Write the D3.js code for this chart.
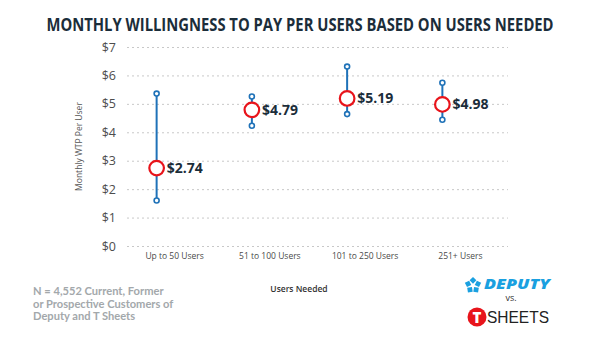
<!DOCTYPE html>
<html>
<head>
<meta charset="utf-8">
<script src="https://cdn.jsdelivr.net/npm/d3@7"></script>
<style>
  body { margin: 0; background: #fff; }
  svg { display: block; font-family: "Open Sans", sans-serif; }
</style>
</head>
<body>
<svg id="chart"></svg>
<script>
// data
var categories = ["Up to 50 Users", "51 to 100 Users", "101 to 250 Users", "251+ Users"];
var meanWtp = [2.74, 4.79, 5.19, 4.98];
var highWtp = [5.36, 5.26, 6.31, 5.74];
var lowWtp = [1.60, 4.23, 4.64, 4.44];
var yTicks = [0, 1, 2, 3, 4, 5, 6, 7];

var width = 600;
var height = 337;
var margin = {top: 47, right: 92, bottom: 91, left: 127};

var svg = d3.select("#chart")
    .attr("width", width)
    .attr("height", height);

// title, squeezed horizontally to the condensed look
svg.append("g")
    .attr("transform", "translate(300,31) scale(0.87,1)")
    .append("text")
    .attr("text-anchor", "middle")
    .attr("fill", "#1b2d3a")
    .style("font-size", "17px")
    .style("font-weight", 700)
    .text("MONTHLY WILLINGNESS TO PAY PER USERS BASED ON USERS NEEDED");

// scales
var x = d3.scaleBand()
    .domain(categories)
    .range([margin.left, width - margin.right]);

var y = d3.scaleLinear()
    .domain([0, 7])
    .range([height - margin.bottom, margin.top]);

// dotted gridlines + y labels
var yAxis = svg.append("g")
    .attr("transform", `translate(${margin.left},0)`)
    .call(d3.axisLeft(y).tickValues(yTicks).tickFormat(d => "$" + d)
        .tickSize(-(width - margin.left - margin.right)).tickPadding(11));
yAxis.select(".domain").remove();
yAxis.selectAll(".tick line")
    .attr("stroke", "#c8c8c8")
    .attr("stroke-width", 1)
    .attr("stroke-dasharray", "2,3");
yAxis.selectAll(".tick text")
    .attr("fill", "#4d4d4d")
    .style("font-size", "12.5px")
    .style("font-family", "Open Sans, sans-serif");

// x labels
var xAxis = svg.append("g")
    .attr("transform", `translate(0,${height - margin.bottom})`)
    .call(d3.axisBottom(x).tickSize(0).tickPadding(7));
xAxis.select(".domain").remove();
xAxis.selectAll(".tick text")
    .attr("fill", "#4a4a4a")
    .style("font-size", "8.5px")
    .style("font-family", "Open Sans, sans-serif");

// axis titles
svg.append("text")
    .attr("transform", `translate(82,${y(3.5)}) rotate(-90)`)
    .attr("text-anchor", "middle")
    .attr("fill", "#555")
    .style("font-size", "8.5px")
    .text("Monthly WTP Per User");

svg.append("text")
    .attr("x", 299)
    .attr("y", 292)
    .attr("text-anchor", "middle")
    .attr("fill", "#333")
    .style("font-size", "8.5px")
    .style("font-weight", 600)
    .text("Users Needed");

// range markers
var cx = d => x(d) + x.bandwidth() / 2 - 18;
var rows = categories.map((c, i) => ({c: c, mean: meanWtp[i], hi: highWtp[i], lo: lowWtp[i]}));

var g = svg.append("g");
g.selectAll(".range")
    .data(rows)
    .enter().append("line")
    .attr("x1", d => cx(d.c))
    .attr("x2", d => cx(d.c))
    .attr("y1", d => y(d.hi))
    .attr("y2", d => y(d.lo))
    .attr("stroke", "#1f72b8")
    .attr("stroke-width", 2);

rows.forEach(d => {
    [d.hi, d.lo].forEach(v => {
        g.append("circle")
            .attr("cx", cx(d.c))
            .attr("cy", y(v))
            .attr("r", 2.5)
            .attr("fill", "#fff")
            .attr("stroke", "#1f72b8")
            .attr("stroke-width", 1.6);
    });
});

g.selectAll(".mean")
    .data(rows)
    .enter().append("circle")
    .attr("cx", d => cx(d.c))
    .attr("cy", d => y(d.mean))
    .attr("r", 7.3)
    .attr("fill", "#fff")
    .attr("stroke", "#e8141b")
    .attr("stroke-width", 2.2);

g.selectAll(".val")
    .data(rows)
    .enter().append("text")
    .attr("x", d => cx(d.c) + 10)
    .attr("y", d => y(d.mean) + 5)
    .attr("fill", "#1b2d3a")
    .style("font-size", "14px")
    .style("font-weight", 700)
    .text(d => "$" + d.mean.toFixed(2));

// sample note
var note = ["N = 4,552 Current, Former", "or Prospective Customers of", "Deputy and T Sheets"];
svg.append("g")
    .attr("transform", "translate(33,0) scale(1.07,1)")
    .selectAll(".note")
    .data(note)
    .enter().append("text")
    .attr("x", 0)
    .attr("y", (d, i) => 295.5 + i * 12.5)
    .attr("fill", "#a3a8ab")
    .style("font-family", "Lato, sans-serif")
    .style("font-size", "10.4px")
    .style("font-weight", 700)
    .text(d => d);

// Deputy logo
var logo = svg.append("g").attr("transform", "translate(473,285.5)");
d3.range(5).forEach(i => {
    var a = (i * 72 - 90) * Math.PI / 180;
    logo.append("rect")
        .attr("x", -2.4)
        .attr("y", -2.4)
        .attr("width", 4.8)
        .attr("height", 4.8)
        .attr("fill", "#1aa0e0")
        .attr("transform", `translate(${Math.cos(a) * 5.2},${Math.sin(a) * 5.2}) rotate(${i * 72 + 45})`);
});
svg.append("text")
    .attr("x", 484)
    .attr("y", 288.5)
    .attr("fill", "#1aa0e0")
    .style("font-size", "13.5px")
    .style("font-weight", 800)
    .style("font-style", "italic")
    .attr("textLength", 66)
    .attr("lengthAdjust", "spacingAndGlyphs")
    .text("DEPUTY");

svg.append("text")
    .attr("x", 511)
    .attr("y", 301)
    .attr("text-anchor", "middle")
    .attr("fill", "#333")
    .style("font-size", "9px")
    .text("vs.");

// T Sheets logo
svg.append("circle")
    .attr("cx", 477)
    .attr("cy", 317)
    .attr("r", 9.5)
    .attr("fill", "#e8141b");
svg.append("text")
    .attr("x", 477)
    .attr("y", 322.5)
    .attr("text-anchor", "middle")
    .attr("fill", "#fff")
    .style("font-size", "15px")
    .style("font-weight", 800)
    .text("T");
svg.append("text")
    .attr("x", 487)
    .attr("y", 323)
    .attr("fill", "#222")
    .style("font-family", "Liberation Sans, sans-serif")
    .style("font-size", "16.5px")
    .attr("textLength", 62)
    .attr("lengthAdjust", "spacingAndGlyphs")
    .text("SHEETS");
</script>
</body>
</html>
